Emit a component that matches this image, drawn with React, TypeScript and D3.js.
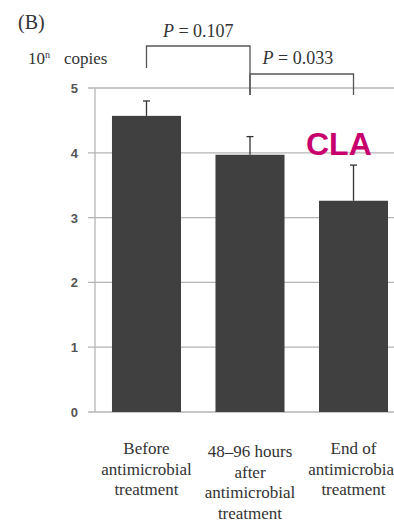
import React from "react";
import * as d3 from "d3";

// values (10^n copies)
const categories = ["before", "48-96h", "end"];
const labelLines = [
  ["Before", "antimicrobial", "treatment"],
  ["48–96 hours", "after", "antimicrobial", "treatment"],
  ["End of", "antimicrobial", "treatment"],
];
const means = [4.57, 3.97, 3.26];
const errors = [0.23, 0.28, 0.55];
const yTicks = [0, 1, 2, 3, 4, 5];
const comparisons = [
  { from: 0, to: 1, p: "0.107" },
  { from: 1, to: 2, p: "0.033" },
];

const W = 394;
const H = 522;
const serif = "Liberation Serif";
const sans = "Liberation Sans";

export default function App() {
  const y = d3.scaleLinear().domain([0, 5]).range([412, 88]);
  const x = d3
    .scaleBand()
    .domain(categories)
    .range([95, 405])
    .paddingInner(0.333)
    .paddingOuter(0.164);
  const bw = x.bandwidth();
  const cx = (i: number) => (x(categories[i]) as number) + bw / 2;

  // bracket tops and leg ends (pixels)
  const brackets = [
    { top: 46, leftEnd: 68, rightEnd: 95, textY: 37 },
    { top: 74, leftEnd: 95, rightEnd: 95, textY: 64 },
  ];

  return (
    <svg
      width={W}
      height={H}
      style={{ position: "absolute", left: 0, top: 0, background: "#fff" }}
    >
      {/* gridlines */}
      {yTicks.map((t) => (
        <line
          key={"g" + t}
          x1={88}
          x2={W}
          y1={y(t)}
          y2={y(t)}
          stroke="#b5b5b5"
          strokeWidth={1.3}
        />
      ))}
      <line x1={95} x2={95} y1={y(5)} y2={y(0)} stroke="#b5b5b5" strokeWidth={1.3} />

      {/* tick labels */}
      {yTicks.map((t) => (
        <text
          key={"t" + t}
          x={78}
          y={y(t) + 5}
          textAnchor="end"
          style={{ fontFamily: sans }}
          fontSize={13}
          fontWeight="bold"
          fill="#555"
        >
          {t}
        </text>
      ))}

      {/* bars */}
      {means.map((m, i) => (
        <rect
          key={"b" + i}
          x={x(categories[i])}
          y={y(m)}
          width={bw}
          height={y(0) - y(m)}
          fill="#404040"
        />
      ))}

      {/* error bars */}
      {means.map((m, i) => (
        <g key={"e" + i} stroke="#333" strokeWidth={1.3}>
          <line x1={cx(i)} x2={cx(i)} y1={y(m)} y2={y(m + errors[i])} />
          <line x1={cx(i) - 3.5} x2={cx(i) + 3.5} y1={y(m + errors[i])} y2={y(m + errors[i])} />
        </g>
      ))}

      {/* category labels */}
      {labelLines.map((lines, i) => (
        <text
          key={"c" + i}
          x={cx(i)}
          y={454 + (i === 1 ? 3 : 0)}
          textAnchor="middle"
          style={{ fontFamily: serif }}
          fontSize={17}
          fill="#333"
        >
          {lines.map((l, j) => (
            <tspan key={j} x={cx(i)} dy={j === 0 ? 0 : 20.5} style={{ fontFamily: serif }}>
              {l}
            </tspan>
          ))}
        </text>
      ))}

      {/* significance brackets */}
      {comparisons.map((c, k) => {
        const b = brackets[k];
        const x1 = cx(c.from);
        const x2 = cx(c.to);
        return (
          <g key={"s" + k}>
            <path
              d={`M${x1},${b.leftEnd}V${b.top}H${x2}V${b.rightEnd}`}
              fill="none"
              stroke="#555"
              strokeWidth={1.3}
            />
            <text
              x={k === 0 ? (x1 + x2) / 2 : x2 - 91}
              y={b.textY}
              textAnchor={k === 0 ? "middle" : "start"}
              style={{ fontFamily: serif }}
              fontSize={18}
              fill="#333"
            >
              <tspan fontStyle="italic">P</tspan> = {c.p}
            </text>
          </g>
        );
      })}

      {/* axis title and panel letter */}
      <text x={18} y={29} style={{ fontFamily: serif }} fontSize={20} fill="#333">
        (B)
      </text>
      <text x={28} y={64} style={{ fontFamily: serif }} fontSize={17} fill="#333">
        10
        <tspan fontSize={10} dy={-6}>
          n
        </tspan>
        <tspan dy={6} dx={14}>
          copies
        </tspan>
      </text>

      <text
        x={306}
        y={155}
        style={{ fontFamily: sans }}
        fontWeight="bold"
        fontSize={32}
        fill="#c8006e"
      >
        CLA
      </text>
    </svg>
  );
}
